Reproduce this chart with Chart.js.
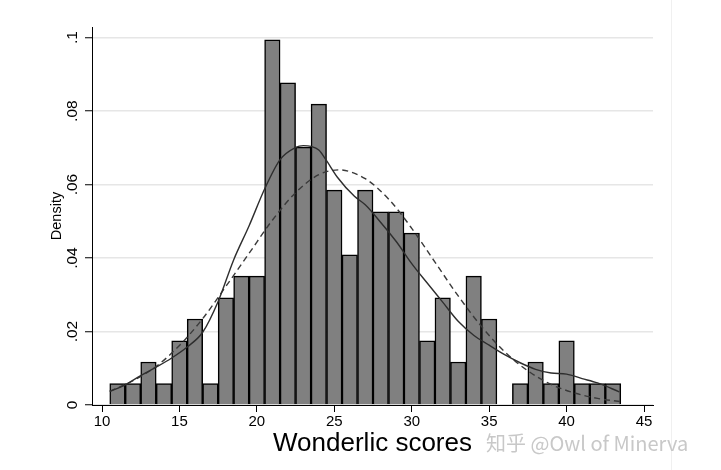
<!DOCTYPE html>
<html><head><meta charset="utf-8">
<script src="https://cdn.jsdelivr.net/npm/chart.js@4/dist/chart.umd.min.js"></script>
<style>html,body{margin:0;padding:0;background:#fff}#wrap{width:721px;height:470px}</style>
</head><body><div id="wrap"><canvas id="c" width="721" height="470"></canvas></div>
<script>
// Histogram bins (centres) and densities
const binCenters = [11,12,13,14,15,16,17,18,19,20,21,22,23,24,25,26,27,28,29,30,31,32,33,34,35,36,37,38,39,40,41,42,43];
const binDensity = [0.0058,0.0058,0.0117,0.0058,0.0175,0.0234,0.0058,0.0292,0.0351,0.0351,0.0994,0.0877,0.0702,0.0819,0.0585,0.0409,0.0585,0.0526,0.0526,0.0468,0.0175,0.0292,0.0117,0.0351,0.0234,0,0.0058,0.0117,0.0058,0.0175,0.0058,0.0058,0.0058];

// Kernel density estimate (solid line)
const kernelX = [10.5,11.5,12.5,13.5,14.5,15.5,16.5,17.5,18.5,19.5,20.5,21.5,22.5,23.0,23.5,24.0,24.5,25.2,26.3,27.0,28.0,29.0,30.0,31.0,32.0,33.0,34.0,35.0,36.0,37.0,38.0,39.0,40.0,41.0,42.0,43.4];
const kernelY = [0.0037,0.0055,0.0080,0.0103,0.0128,0.0158,0.0198,0.0282,0.0395,0.0488,0.0588,0.0668,0.0701,0.0706,0.0704,0.0694,0.0665,0.0620,0.0568,0.0545,0.0497,0.0445,0.0385,0.0332,0.0280,0.0228,0.0190,0.0163,0.0137,0.0115,0.0097,0.0087,0.0084,0.0072,0.0060,0.0036];

// Normal density (dashed line)
const normalX = [10.5,12,13.5,15,16.5,18,19.5,21,22.5,24,25.3,27,28.5,30,31.5,33,34.5,36,37.5,39,40.5,42,43.5];
const normalY = [0.0037,0.0066,0.0105,0.0162,0.0235,0.0323,0.0413,0.0503,0.0578,0.0627,0.0640,0.0616,0.0561,0.0481,0.0389,0.0297,0.0214,0.0145,0.0093,0.0056,0.0033,0.0018,0.0009];

const xTicks = [10,15,20,25,30,35,40,45];
const yTicks = [0,0.02,0.04,0.06,0.08,0.1];
const yTickLabels = ['0','.02','.04','.06','.08','.1'];
const xTitle = 'Wonderlic scores';
const yTitle = 'Density';
const watermark = '知乎 @Owl of Minerva';

const FONT = '"Liberation Sans", Arial, sans-serif';

const extras = {
  id: 'extras',
  beforeDraw(chart) {
    const ctx = chart.ctx;
    ctx.save();
    ctx.fillStyle = '#ffffff';
    ctx.fillRect(0, 0, chart.width, chart.height);
    ctx.strokeStyle = '#f0f0f0';
    ctx.lineWidth = 1;
    ctx.beginPath();
    ctx.moveTo(671.5, 0); ctx.lineTo(671.5, chart.height);
    ctx.stroke();
    ctx.restore();
  },
  afterDraw(chart) {
    const ctx = chart.ctx;
    const ys = chart.scales.y;
    ctx.save();
    ctx.fillStyle = '#000';
    ctx.font = '15.5px ' + FONT;
    ctx.textAlign = 'center';
    ctx.textBaseline = 'middle';
    yTicks.forEach((v, i) => {
      const py = ys.getPixelForValue(v);
      ctx.save();
      ctx.translate(73, py);
      ctx.rotate(-Math.PI / 2);
      ctx.fillText(yTickLabels[i], 0, 0);
      ctx.restore();
    });
    ctx.font = '20px "Noto Sans CJK SC", "Liberation Sans", sans-serif';
    ctx.fillStyle = '#c8c8c8';
    ctx.textAlign = 'left';
    ctx.fillText(watermark, 486, 443);
    ctx.restore();
  }
};

new Chart(document.getElementById('c'), {
  type: 'bar',
  data: {
    datasets: [
      {
        type: 'line',
        order: 0,
        data: kernelX.map((x, i) => ({x: x, y: kernelY[i]})),
        borderColor: '#2e2e2e',
        borderWidth: 1.4,
        pointRadius: 0,
        fill: false,
        cubicInterpolationMode: 'monotone'
      },
      {
        type: 'line',
        order: 1,
        data: normalX.map((x, i) => ({x: x, y: normalY[i]})),
        borderColor: '#3a3a3a',
        borderWidth: 1.4,
        borderDash: [6, 4],
        pointRadius: 0,
        fill: false,
        cubicInterpolationMode: 'monotone'
      },
      {
        type: 'bar',
        order: 2,
        data: binCenters.map((x, i) => ({x: x, y: binDensity[i]})),
        backgroundColor: '#808080',
        borderColor: '#000000',
        borderWidth: 1.5,
        barPercentage: 1,
        categoryPercentage: 1
      }
    ]
  },
  options: {
    responsive: false,
    animation: false,
    devicePixelRatio: 1,
    layout: {padding: {left: 0, top: 27, right: 68, bottom: 0}},
    plugins: {legend: {display: false}, tooltip: {enabled: false}},
    scales: {
      x: {
        type: 'linear',
        offset: false,
        min: 9.354,
        max: 45.58,
        afterBuildTicks: (s) => { s.ticks = xTicks.map(v => ({value: v})); },
        afterFit: (s) => { s.height = 65; },
        grid: {offset: false, drawOnChartArea: false, drawTicks: true, tickLength: 7, tickColor: '#000', tickWidth: 1},
        border: {display: true, color: '#000', width: 1},
        ticks: {color: '#000', font: {family: FONT, size: 15}, padding: 1, maxRotation: 0, minRotation: 0,
                callback: (v) => String(v)},
        title: {display: true, text: xTitle, color: '#000', font: {family: FONT, size: 26}, padding: {top: 0, bottom: 11}}
      },
      y: {
        type: 'linear',
        position: 'left',
        min: 0,
        max: 0.1029,
        afterBuildTicks: (s) => { s.ticks = yTicks.map(v => ({value: v})); },
        afterFit: (s) => { s.width = 92; },
        grid: {color: '#e6e6e6', lineWidth: 1.5, drawTicks: true, tickLength: 7, tickColor: '#000', tickWidth: 1},
        border: {display: true, color: '#000', width: 1},
        ticks: {color: 'rgba(0,0,0,0)', font: {family: FONT, size: 15}, callback: (v) => String(v)},
        title: {display: true, text: yTitle, color: '#000', font: {family: FONT, size: 14.5}, padding: {top: 48, bottom: 0}}
      }
    }
  },
  plugins: [extras]
});
</script></body></html>
